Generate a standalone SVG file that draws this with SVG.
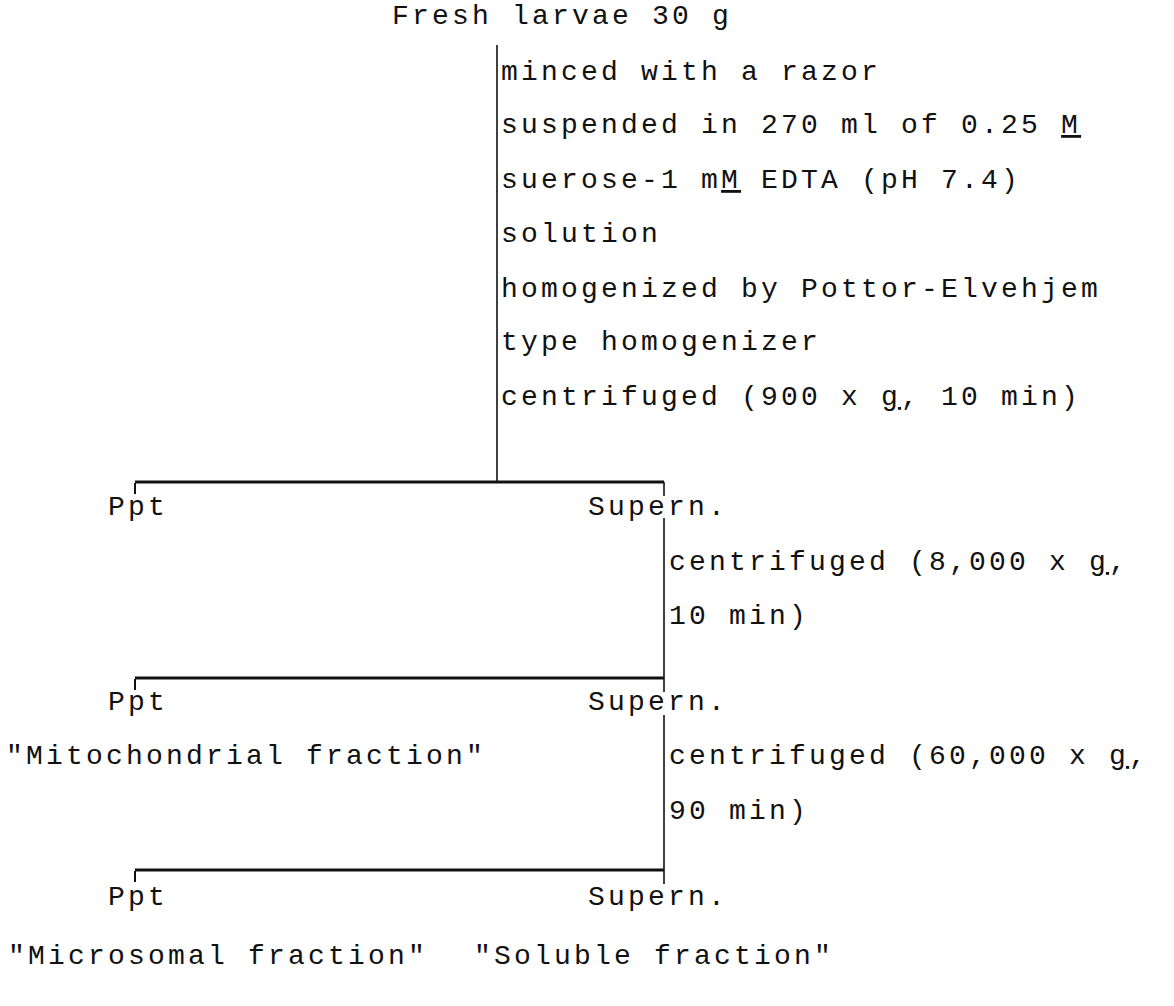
<svg xmlns="http://www.w3.org/2000/svg" width="1174" height="1006" viewBox="0 0 1174 1006">
<style>
  text { font-family: "Liberation Mono", "DejaVu Sans Mono", monospace; font-size: 28px; letter-spacing: 3.2px; fill: #111; }
  .u { text-decoration: underline; }
  .v { stroke: #111; stroke-width: 1.6; fill: none; }
  .h { stroke: #111; stroke-width: 3; fill: none; }
  .t { stroke: #111; stroke-width: 2; fill: none; }
</style>
<rect width="1174" height="1006" fill="#fff"/>
<g id="connectors">
  <line class="v" x1="497" y1="45" x2="497" y2="482"/>
  <line class="h" x1="135" y1="482" x2="664" y2="482"/>
  <line class="t" x1="135" y1="483" x2="135" y2="494"/>
  <line class="v" x1="664" y1="482" x2="664" y2="496"/>
  <line class="v" x1="664" y1="518" x2="664" y2="678"/>
  <line class="h" x1="135" y1="678" x2="664" y2="678"/>
  <line class="t" x1="135" y1="679" x2="135" y2="690"/>
  <line class="v" x1="664" y1="678" x2="664" y2="692"/>
  <line class="v" x1="664" y1="715" x2="664" y2="870"/>
  <line class="h" x1="135" y1="870" x2="664" y2="870"/>
  <line class="t" x1="135" y1="871" x2="135" y2="882"/>
  <line class="v" x1="664" y1="870" x2="664" y2="884"/>
</g>
<g id="start"><text x="392" y="24">Fresh larvae 30 g</text></g>
<g id="step1">
  <text x="501" y="80">minced with a razor</text>
  <text x="501" y="133">suspended in 270 ml of 0.25 <tspan class="u">M</tspan></text>
  <text x="501" y="188">suerose-1 m<tspan class="u">M</tspan> EDTA (pH 7.4)</text>
  <text x="501" y="242">solution</text>
  <text x="501" y="297">homogenized by Pottor-Elvehjem</text>
  <text x="501" y="350">type homogenizer</text>
  <text x="501" y="405">centrifuged (900 x <tspan class="u">g</tspan>, 10 min)</text>
</g>
<g id="ppt1"><text x="108" y="515">Ppt</text></g>
<g id="supern1"><text x="588" y="515">Supern.</text></g>
<g id="step2">
  <text x="669" y="570">centrifuged (8,000 x <tspan class="u">g</tspan>,</text>
  <text x="669" y="624">10 min)</text>
</g>
<g id="ppt2"><text x="108" y="710">Ppt</text><text x="6" y="764">"Mitochondrial fraction"</text></g>
<g id="supern2"><text x="588" y="710">Supern.</text></g>
<g id="step3">
  <text x="669" y="764">centrifuged (60,000 x <tspan class="u">g</tspan>,</text>
  <text x="669" y="819">90 min)</text>
</g>
<g id="ppt3"><text x="108" y="905">Ppt</text><text x="8" y="964">"Microsomal fraction"</text></g>
<g id="supern3"><text x="588" y="905">Supern.</text><text x="474" y="964">"Soluble fraction"</text></g>
</svg>
